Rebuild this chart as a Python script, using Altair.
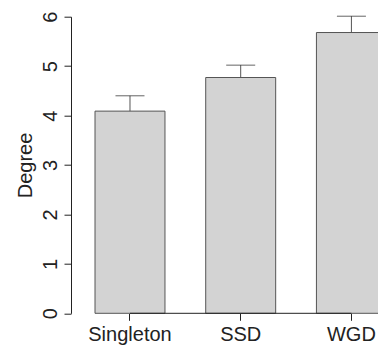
import altair as alt
import pandas as pd

categories = ["Singleton", "SSD", "WGD"]
means = [4.09, 4.77, 5.68]
uppers = [4.40, 5.02, 6.01]
y_ticks = [0, 1, 2, 3, 4, 5, 6]

df = pd.DataFrame({"group": categories, "mean": means, "upper": uppers})
base_df = pd.DataFrame({"start": [categories[0]], "end": [categories[-1]], "zero": [0]})

FONT = "Liberation Sans"
x_scale = alt.Scale(domain=categories, range=[24, 315.4], paddingInner=0.368, paddingOuter=0)
y_scale = alt.Scale(domain=[0, 6], nice=False, zero=True)

bars = alt.Chart(df).mark_bar(fill="#d3d3d3", stroke="#555555", strokeWidth=1).encode(
    x=alt.X("group:N", scale=x_scale, sort=categories,
            axis=alt.Axis(title=None, domain=False, ticks=True, tickSize=7, tickColor="#222222",
                          labelAngle=0, labelFontSize=20, labelFont=FONT, labelColor="#222222",
                          labelPadding=4)),
    y=alt.Y("mean:Q", scale=y_scale,
            axis=alt.Axis(title="Degree", values=y_ticks, grid=False, domainColor="#222222",
                          tickColor="#222222", tickSize=7, labelAngle=270, labelFontSize=20,
                          labelFont=FONT, labelColor="#222222", labelPadding=4,
                          titleFont=FONT, titleFontSize=20, titleFontWeight="normal",
                          titleColor="#222222", titlePadding=5)),
)

stems = alt.Chart(df).mark_rule(color="#555555", strokeWidth=1).encode(
    x=alt.X("group:N", scale=x_scale, sort=categories),
    y=alt.Y("mean:Q", scale=y_scale),
    y2="upper:Q",
)

caps = alt.Chart(df).mark_tick(color="#222222", thickness=1, size=29).encode(
    x=alt.X("group:N", scale=x_scale, sort=categories),
    y=alt.Y("upper:Q", scale=y_scale),
)

baseline = alt.Chart(base_df).mark_rule(color="#222222", strokeWidth=1).encode(
    x=alt.X("start:N", scale=x_scale),
    x2="end:N",
    y=alt.Y("zero:Q", scale=y_scale),
)

chart = alt.layer(bars, baseline, stems, caps).properties(
    width=307, height=296.6,
    autosize=alt.AutoSizeParams(type="none"),
    padding={"left": 71, "top": 16.7, "right": 0, "bottom": 33.7},
    background="white",
).configure_view(stroke=None)

chart.save("out.html", embed_options={"renderer": "svg", "actions": False})
